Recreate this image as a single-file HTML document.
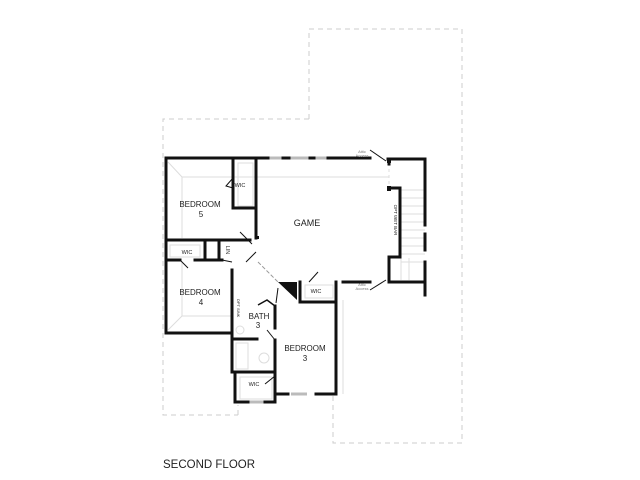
<!DOCTYPE html>
<html><head><meta charset="utf-8"><style>
html,body{margin:0;padding:0;background:#fff}
svg{display:block}
text{font-family:"Liberation Sans",sans-serif;fill:#222}
</style></head><body>
<svg width="640" height="480" viewBox="0 0 640 480" xmlns="http://www.w3.org/2000/svg">
<g fill="none" stroke="#ccc" stroke-width="1" stroke-dasharray="5,4">
<polyline points="309,119 163,119 163,415 238,415"/>
<polyline points="309,119 309,29 462,29 462,443 333,443 333,395"/>
<line x1="238" y1="415" x2="238" y2="405"/>
</g>
<g fill="none" stroke="#ddd" stroke-width="1">
<polyline points="168,162 182,177 256,177"/>
<line x1="182" y1="177" x2="182" y2="238"/>
<line x1="256" y1="177" x2="389" y2="177"/>
<polyline points="168,330 182,316 232,316"/>
<line x1="182" y1="316" x2="182" y2="262"/>
<line x1="343" y1="300" x2="343" y2="394"/>
<rect x="238" y="163" width="15" height="43"/>
<rect x="170" y="245" width="30" height="12"/>
<rect x="305" y="285" width="28" height="13"/>
<rect x="240" y="377" width="32" height="22"/>
<rect x="236" y="343" width="12" height="26"/>
<circle cx="264" cy="358" r="5"/>
<circle cx="240" cy="330" r="4"/>
</g>
<g stroke="#ddd" stroke-width="1">
<line x1="401" y1="190" x2="425" y2="190"/><line x1="401" y1="198" x2="425" y2="198"/>
<line x1="401" y1="206" x2="425" y2="206"/><line x1="401" y1="214" x2="425" y2="214"/>
<line x1="401" y1="222" x2="425" y2="222"/><line x1="401" y1="230" x2="425" y2="230"/>
<line x1="401" y1="238" x2="425" y2="238"/><line x1="401" y1="246" x2="425" y2="246"/>
<line x1="401" y1="254" x2="425" y2="254"/><line x1="401" y1="262" x2="425" y2="262"/>
<line x1="401" y1="258" x2="401" y2="280"/><line x1="409" y1="258" x2="409" y2="280"/>
<line x1="389" y1="163" x2="389" y2="190" stroke-dasharray="3,3"/>
</g>
<g stroke="#bbb" stroke-width="3">
<line x1="268" y1="158" x2="283" y2="158"/>
<line x1="290" y1="158" x2="310" y2="158"/>
<line x1="315" y1="158" x2="328" y2="158"/>
<line x1="291" y1="394" x2="307" y2="394"/>
<line x1="248" y1="402" x2="265" y2="402"/>
</g>
<g fill="none" stroke="#111" stroke-width="3" stroke-linecap="square">
<polyline points="268,158 166,158 166,333 232,333"/>
<line x1="283" y1="158" x2="289" y2="158"/>
<line x1="310" y1="158" x2="314" y2="158"/>
<line x1="328" y1="158" x2="370" y2="158"/>
<polyline points="388,159 425,159 425,225"/>
<line x1="425" y1="234" x2="425" y2="250"/>
<line x1="425" y1="262" x2="425" y2="295"/>
<line x1="389" y1="160" x2="389" y2="164"/>
<polyline points="389,188 400,188 400,257 389,257 389,282 425,282"/>
<line x1="343" y1="282" x2="370" y2="282"/>
<polyline points="233,160 233,208 256,208 256,160"/>
<line x1="256" y1="160" x2="256" y2="238"/>
<line x1="166" y1="240" x2="250" y2="240"/>
<line x1="166" y1="260" x2="180" y2="260"/>
<line x1="195" y1="260" x2="222" y2="260"/>
<line x1="205" y1="240" x2="205" y2="260"/>
<line x1="219" y1="240" x2="219" y2="260"/>
<line x1="232" y1="270" x2="232" y2="372"/>
<polyline points="300,282 300,302 336,302"/>
<line x1="336" y1="282" x2="336" y2="394"/>
<polyline points="336,394 316,394"/>
<polyline points="288,394 275,394 275,340"/>
<line x1="275" y1="328" x2="275" y2="306"/>
<line x1="232" y1="372" x2="275" y2="372"/>
<line x1="232" y1="339" x2="257" y2="339"/>
<polyline points="235,372 235,402 248,402"/>
<polyline points="265,402 275,402 275,394"/>
</g>
<g fill="none" stroke="#111" stroke-width="1.5">
<polyline points="258,305 267,300 275,306"/>
</g>
<g fill="none" stroke="#111" stroke-width="1">
<line x1="370" y1="150" x2="386" y2="161"/>
<line x1="370" y1="290" x2="386" y2="280"/>
<polyline points="233,178 226,186 233,188"/>
<polyline points="180,260 188,268"/>
<polyline points="222,260 232,262"/>
<line x1="240" y1="232" x2="252" y2="244"/>
<line x1="246" y1="262" x2="256" y2="252"/>
<line x1="258" y1="262" x2="278" y2="282" stroke-dasharray="4,2" stroke="#999"/>
<line x1="309" y1="282" x2="318" y2="272"/>
<line x1="267" y1="330" x2="275" y2="340"/>
<line x1="265" y1="384" x2="275" y2="376"/>
<line x1="278" y1="288" x2="276" y2="303"/>
</g>
<rect x="256" y="236" width="3" height="3" fill="#111"/>
<rect x="387" y="158" width="4" height="5" fill="#111"/>
<rect x="387" y="186" width="4" height="5" fill="#111"/>
<polygon points="278,282 297,282 297,300" fill="#111"/>
<g font-size="8" text-anchor="middle">
<text x="200" y="207">BEDROOM</text><text x="201" y="217">5</text>
<text x="200" y="295">BEDROOM</text><text x="201" y="305">4</text>
<text x="307" y="226" font-size="9">GAME</text>
<text x="305" y="351">BEDROOM</text><text x="305" y="361">3</text>
<text x="259" y="319">BATH</text><text x="258" y="328">3</text>
</g>
<g font-size="5.5" text-anchor="middle">
<text x="240" y="187">WIC</text>
<text x="187" y="254">WIC</text>
<text x="316" y="293">WIC</text>
<text x="254" y="386">WIC</text>
<text x="226" y="250" transform="rotate(90 226 250)">LIN</text>
<text x="394" y="220" transform="rotate(90 394 220)" font-size="4.5">OPT WET BAR</text>
<text x="237" y="308" transform="rotate(90 237 308)" font-size="4">OPT SINK</text>
</g>
<g font-size="4" text-anchor="middle">
<text x="362" y="153" style="fill:#777">Attic</text><text x="362" y="157" style="fill:#777">Access</text>
<text x="362" y="286" style="fill:#777">Attic</text><text x="362" y="290" style="fill:#777">Access</text>
</g>
<text x="163" y="468" font-size="11.5">SECOND FLOOR</text>
</svg>
</body></html>
